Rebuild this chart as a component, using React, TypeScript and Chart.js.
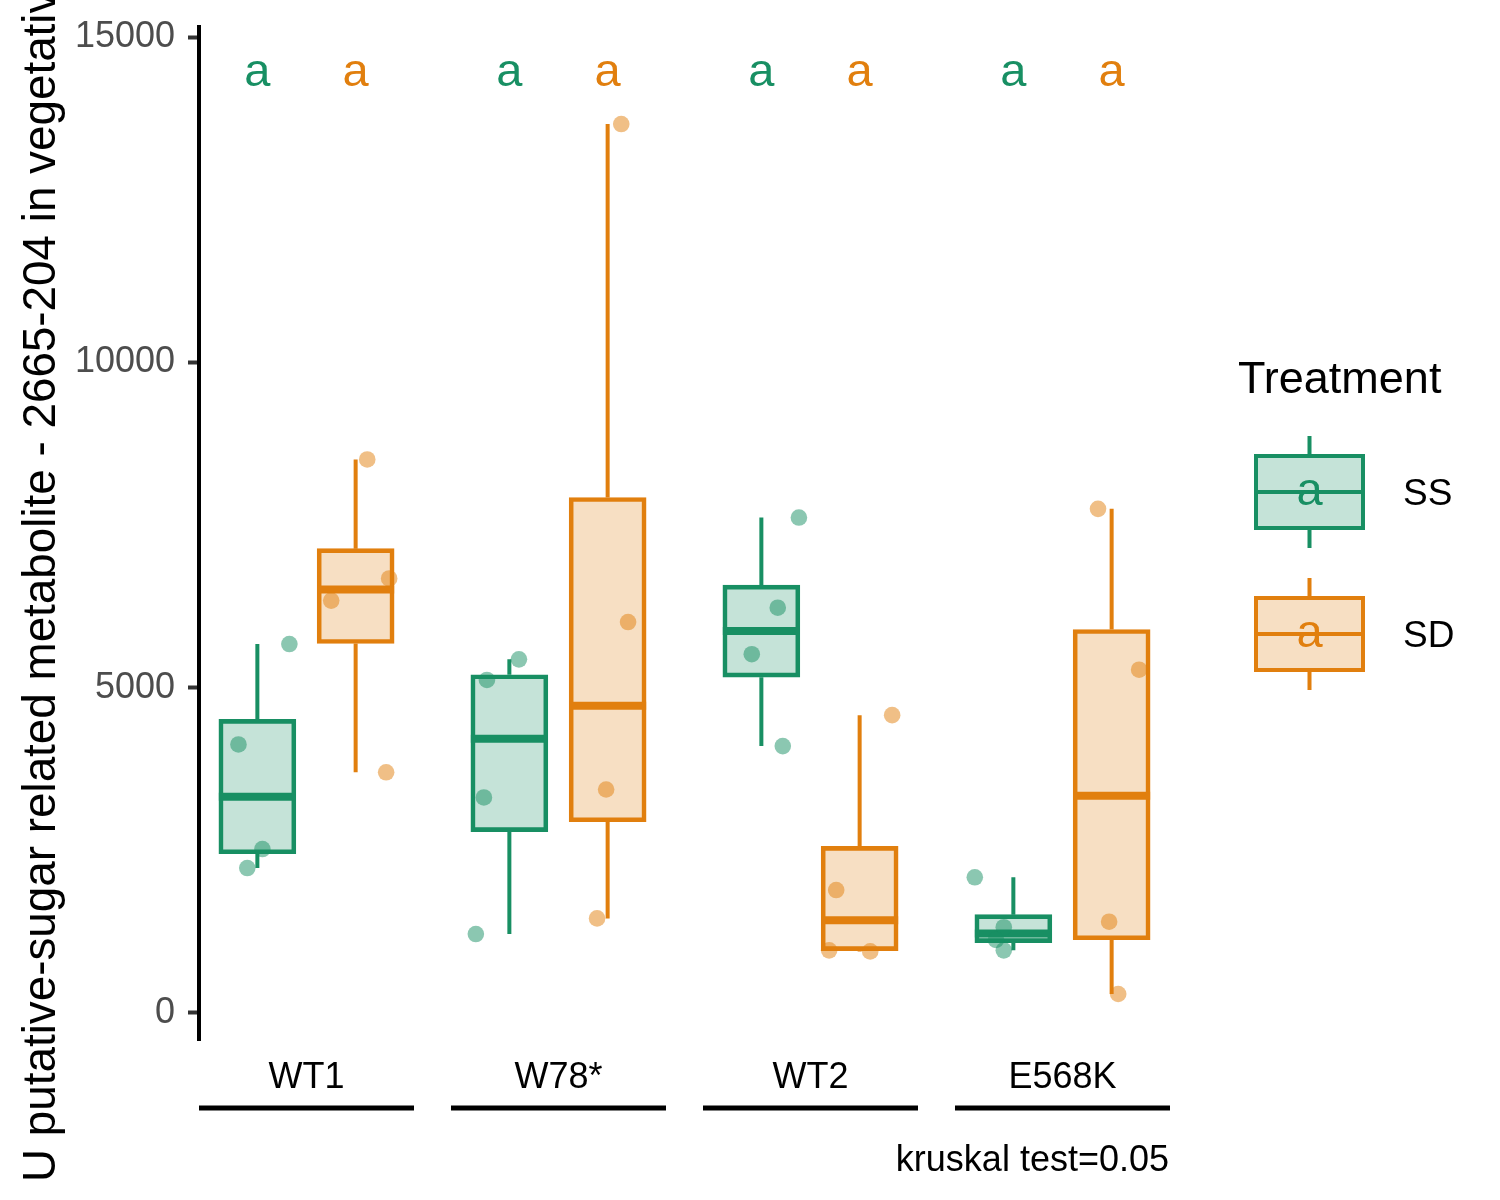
import React, { useEffect, useRef } from 'react';
import { Chart, registerables } from 'chart.js';

Chart.register(...registerables);

// ---------- data ----------
const categories = ['WT1', 'W78*', 'WT2', 'E568K'];
const treatments = ['SS', 'SD'];

const ssValues = [
  [5671, 4127, 2520, 2228],
  [5435, 5119, 3313, 1214],
  [7615, 6229, 5514, 4102],
  [2086, 1319, 1122, 963],
];
const sdValues = [
  [8507, 6679, 6338, 3700],
  [13663, 6009, 3435, 1454],
  [4578, 1890, 963, 947],
  [7748, 5276, 1403, 292],
];
// horizontal jitter of each point (category units)
const ssJitter = [
  [0.127, -0.075, 0.02, -0.04],
  [0.038, -0.089, -0.101, -0.133],
  [0.149, 0.065, -0.038, 0.085],
  [-0.153, -0.038, -0.069, -0.038],
];
const sdJitter = [
  [0.046, 0.133, -0.097, 0.121],
  [0.054, 0.081, -0.006, -0.042],
  [0.129, -0.093, -0.121, 0.042],
  [-0.054, 0.109, -0.01, 0.026],
];
const ssLetters = ['a', 'a', 'a', 'a'];
const sdLetters = ['a', 'a', 'a', 'a'];
const letterY = 14450;
const yTicks = [0, 5000, 10000, 15000];
const yTitle = 'U putative-sugar related metabolite - 2665-204 in vegetative';
const legendTitle = 'Treatment';
const footnote = 'kruskal test=0.05';

// ---------- styles ----------
const FONT = '"Liberation Sans", Arial, Helvetica, sans-serif';
const lineColors = ['#188F63', '#E17F0E'];
const fillColors = ['rgba(24,143,99,0.25)', 'rgba(225,127,14,0.25)'];
const pointColors = ['rgba(24,143,99,0.5)', 'rgba(225,127,14,0.5)'];
const dodge = 0.195;
const xMin = 0.5734;
const xMax = 4.4266;
const yMin = -415;
const yMax = 15154;

const seriesValues = [ssValues, sdValues];
const seriesJitter = [ssJitter, sdJitter];
const seriesLetters = [ssLetters, sdLetters];
const offsets = [-dodge, dodge];

function quantile(sorted: number[], p: number) {
  const h = (sorted.length - 1) * p;
  const lo = Math.floor(h);
  const hi = Math.ceil(h);
  return sorted[lo] + (h - lo) * (sorted[hi] - sorted[lo]);
}

function boxStats(vals: number[]) {
  const s = [...vals].sort((a, b) => a - b);
  const q1 = quantile(s, 0.25);
  const median = quantile(s, 0.5);
  const q3 = quantile(s, 0.75);
  const iqr = q3 - q1;
  const inside = s.filter((v) => v >= q1 - 1.5 * iqr && v <= q3 + 1.5 * iqr);
  return { q1, median, q3, lo: Math.min(...inside), hi: Math.max(...inside) };
}

const stats = seriesValues.map((series) => series.map((vals) => boxStats(vals)));

const extrasPlugin = {
  id: 'boxExtras',
  beforeDatasetsDraw(chart: any) {
    const { ctx } = chart;
    const x = chart.scales.x;
    const y = chart.scales.y;
    ctx.save();
    ctx.lineWidth = 4;
    ctx.lineCap = 'butt';
    treatments.forEach((_t, ti) => {
      stats[ti].forEach((st, ci) => {
        const px = x.getPixelForValue(ci + 1 + offsets[ti]);
        ctx.strokeStyle = lineColors[ti];
        ctx.beginPath();
        ctx.moveTo(px, y.getPixelForValue(st.hi));
        ctx.lineTo(px, y.getPixelForValue(st.q3));
        ctx.moveTo(px, y.getPixelForValue(st.q1));
        ctx.lineTo(px, y.getPixelForValue(st.lo));
        ctx.stroke();
      });
    });
    ctx.restore();
  },
  afterDatasetDraw(chart: any, args: any) {
    const meta = args.meta;
    if (meta.type !== 'bar') return;
    const ti = args.index;
    const { ctx } = chart;
    const y = chart.scales.y;
    ctx.save();
    ctx.lineWidth = 8;
    ctx.lineCap = 'butt';
    ctx.strokeStyle = lineColors[ti];
    meta.data.forEach((bar: any, ci: number) => {
      const st = stats[ti][ci];
      const { x: bx, width } = bar.getProps(['x', 'width'], true);
      const py = y.getPixelForValue(st.median);
      ctx.beginPath();
      ctx.moveTo(bx - width / 2, py);
      ctx.lineTo(bx + width / 2, py);
      ctx.stroke();
    });
    ctx.restore();
  },
  afterDraw(chart: any) {
    const { ctx } = chart;
    const x = chart.scales.x;
    const y = chart.scales.y;
    ctx.save();

    // group letters
    ctx.font = `47px ${FONT}`;
    ctx.textAlign = 'center';
    ctx.textBaseline = 'middle';
    treatments.forEach((_t, ti) => {
      seriesLetters[ti].forEach((letter, ci) => {
        ctx.fillStyle = lineColors[ti];
        ctx.fillText(letter, x.getPixelForValue(ci + 1 + offsets[ti]), y.getPixelForValue(letterY));
      });
    });

    // group underlines
    ctx.strokeStyle = '#000000';
    ctx.lineWidth = 5;
    categories.forEach((_c, ci) => {
      ctx.beginPath();
      ctx.moveTo(x.getPixelForValue(ci + 1 - 0.4266), 1108);
      ctx.lineTo(x.getPixelForValue(ci + 1 + 0.4266), 1108);
      ctx.stroke();
    });

    // footnote
    ctx.fillStyle = '#000000';
    ctx.font = `36px ${FONT}`;
    ctx.textAlign = 'right';
    ctx.textBaseline = 'alphabetic';
    ctx.fillText(footnote, 1169, 1171);

    // y title
    ctx.save();
    ctx.translate(55, 1182);
    ctx.rotate(-Math.PI / 2);
    ctx.font = `45.8px ${FONT}`;
    ctx.textAlign = 'left';
    ctx.textBaseline = 'alphabetic';
    ctx.fillStyle = '#000000';
    ctx.fillText(yTitle, 0, 0);
    ctx.restore();

    // legend
    ctx.fillStyle = '#000000';
    ctx.font = `45px ${FONT}`;
    ctx.textAlign = 'left';
    ctx.textBaseline = 'alphabetic';
    ctx.fillText(legendTitle, 1238, 393);
    const keyTops = [456, 598];
    const keyH = 72;
    const keyL = 1256;
    const keyW = 107;
    treatments.forEach((t, ti) => {
      const top = keyTops[ti];
      const cx = keyL + keyW / 2;
      const mid = top + keyH / 2;
      ctx.strokeStyle = lineColors[ti];
      ctx.lineWidth = 4;
      ctx.beginPath();
      ctx.moveTo(cx, top - 20);
      ctx.lineTo(cx, top);
      ctx.moveTo(cx, top + keyH);
      ctx.lineTo(cx, top + keyH + 20);
      ctx.stroke();
      ctx.fillStyle = fillColors[ti];
      ctx.fillRect(keyL, top, keyW, keyH);
      ctx.strokeRect(keyL, top, keyW, keyH);
      ctx.beginPath();
      ctx.moveTo(keyL, mid);
      ctx.lineTo(keyL + keyW, mid);
      ctx.stroke();
      ctx.font = `47px ${FONT}`;
      ctx.textAlign = 'center';
      ctx.textBaseline = 'middle';
      ctx.fillStyle = lineColors[ti];
      ctx.fillText(seriesLetters[ti][0], cx, mid);
      ctx.font = `37px ${FONT}`;
      ctx.textAlign = 'left';
      ctx.textBaseline = 'alphabetic';
      ctx.fillStyle = '#000000';
      ctx.fillText(t, 1403, mid + 13);
    });

    ctx.restore();
  },
};

export default function App() {
  const canvasRef = useRef<HTMLCanvasElement | null>(null);

  useEffect(() => {
    if (!canvasRef.current) return;

    const boxDatasets = treatments.map((t, ti) => ({
      type: 'bar' as const,
      label: t,
      order: 1,
      grouped: false,
      barThickness: 77,
      borderWidth: 4,
      borderSkipped: false,
      borderColor: lineColors[ti],
      backgroundColor: fillColors[ti],
      data: categories.map((_c, ci) => ({
        x: ci + 1 + offsets[ti],
        y: [stats[ti][ci].q1, stats[ti][ci].q3],
      })),
    }));

    const pointDatasets = treatments.map((t, ti) => ({
      type: 'scatter' as const,
      label: `${t} points`,
      order: 0,
      pointRadius: 8.3,
      pointHoverRadius: 8.3,
      pointBorderWidth: 0,
      backgroundColor: pointColors[ti],
      borderColor: pointColors[ti],
      showLine: false,
      data: categories.flatMap((_c, ci) =>
        seriesValues[ti][ci].map((v, k) => ({
          x: ci + 1 + offsets[ti] + seriesJitter[ti][ci][k],
          y: v,
        }))
      ),
    }));

    const chart = new Chart(canvasRef.current, {
      type: 'bar',
      data: { datasets: [...boxDatasets, ...pointDatasets] as any },
      options: {
        animation: false,
        responsive: true,
        maintainAspectRatio: false,
        events: [],
        layout: { padding: { left: 0, top: 27, right: 330, bottom: 0 } },
        plugins: {
          legend: { display: false },
          tooltip: { enabled: false },
        },
        scales: {
          x: {
            type: 'linear',
            offset: false,
            min: xMin,
            max: xMax,
            afterBuildTicks: (axis: any) => {
              axis.ticks = categories.map((_c, i) => ({ value: i + 1 }));
            },
            afterFit: (axis: any) => {
              axis.height = 160;
              axis.paddingLeft = 0;
              axis.paddingRight = 0;
            },
            grid: { display: false, drawTicks: false },
            border: { display: false },
            ticks: {
              autoSkip: false,
              maxRotation: 0,
              padding: 16,
              color: '#000000',
              font: { family: FONT, size: 36 },
              callback: (v: any) => categories[Number(v) - 1] ?? '',
            },
          },
          y: {
            type: 'linear',
            min: yMin,
            max: yMax,
            afterBuildTicks: (axis: any) => {
              axis.ticks = yTicks.map((v) => ({ value: v }));
            },
            afterFit: (axis: any) => {
              axis.width = 199;
              axis.paddingTop = 0;
              axis.paddingBottom = 0;
            },
            grid: {
              display: true,
              drawOnChartArea: false,
              drawTicks: true,
              tickLength: 11,
              tickWidth: 4,
              tickColor: '#333333',
            },
            border: { display: true, color: '#000000', width: 4 },
            ticks: {
              padding: 13,
              color: '#4D4D4D',
              font: { family: FONT, size: 36 },
              callback: (v: any) => String(v),
            },
          },
        },
      } as any,
      plugins: [extrasPlugin],
    });

    return () => chart.destroy();
  }, []);

  return (
    <div style={{ position: 'absolute', left: 0, top: 0, width: 1500, height: 1200, background: '#ffffff' }}>
      <canvas ref={canvasRef} />
    </div>
  );
}
